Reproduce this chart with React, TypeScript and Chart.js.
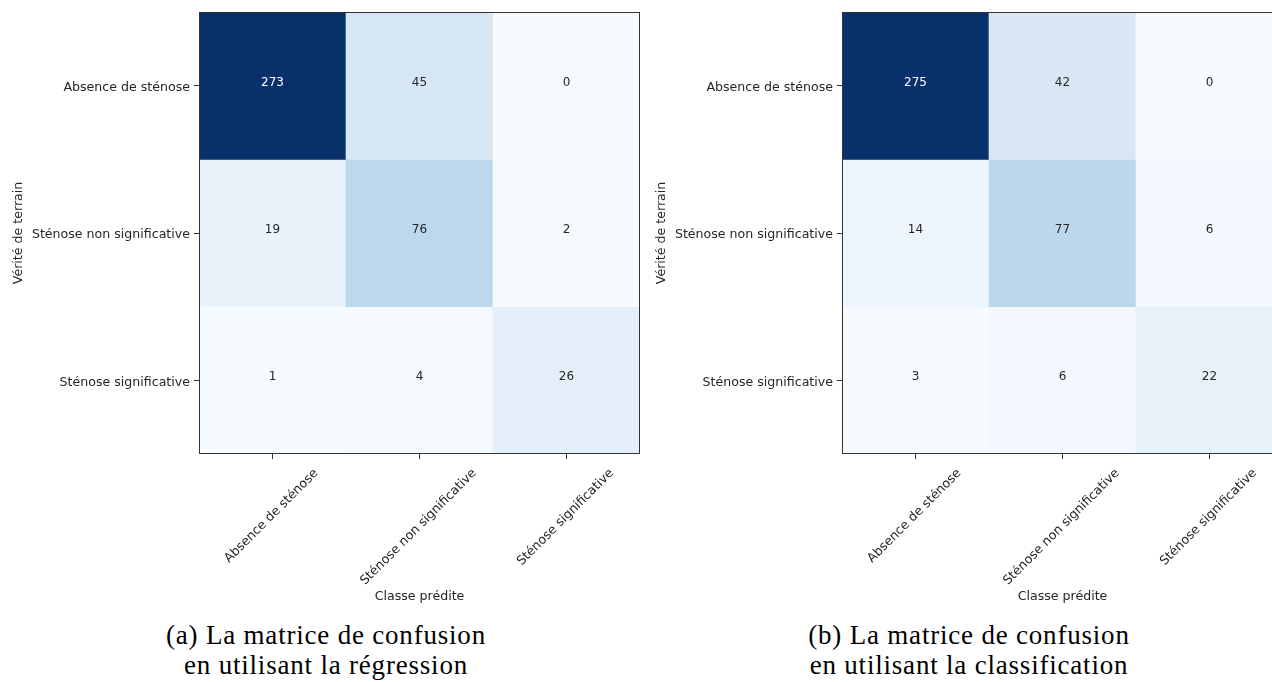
import React, { useEffect, useRef } from "react";
import { Chart, registerables } from "chart.js";

Chart.register(...registerables);

// ---- Data ----
const predictedLabels = ["Absence de sténose", "Sténose non significative", "Sténose significative"];
const trueLabels = ["Absence de sténose", "Sténose non significative", "Sténose significative"];

const regressionAbsence = [273, 45, 0];
const regressionNonSignificative = [19, 76, 2];
const regressionSignificative = [1, 4, 26];

const classificationAbsence = [275, 42, 0];
const classificationNonSignificative = [14, 77, 6];
const classificationSignificative = [3, 6, 22];

const xAxisTitle = "Classe prédite";
const yAxisTitle = "Vérité de terrain";

const captionRegression = ["(a) La matrice de confusion", "en utilisant la régression"];
const captionClassification = ["(b) La matrice de confusion", "en utilisant la classification"];

// ---- Style ----
const FONT = '"DejaVu Sans", sans-serif';
const LABEL_SIZE = 12.6;
const TEXT = "#262626";
const BLUES = ["#f7fbff", "#deebf7", "#c6dbef", "#9ecae1", "#6baed6", "#4292c6", "#2171b5", "#08519c", "#08306b"];

function hexToRgb(h: string) {
  const n = parseInt(h.slice(1), 16);
  return [(n >> 16) & 255, (n >> 8) & 255, n & 255];
}
function blues(t: number) {
  const p = Math.max(0, Math.min(1, t)) * (BLUES.length - 1);
  const i = Math.min(BLUES.length - 2, Math.floor(p));
  const f = p - i;
  const a = hexToRgb(BLUES[i]);
  const b = hexToRgb(BLUES[i + 1]);
  const c = a.map((v, k) => Math.round(v + (b[k] - v) * f));
  return `rgb(${c[0]},${c[1]},${c[2]})`;
}

const decorPlugin = {
  id: "matrixDecor",
  afterDatasetsDraw(chart: any) {
    const ctx = chart.ctx;
    const thresh = chart.options.plugins.matrixDecor.thresh;
    ctx.save();
    ctx.font = `12px ${FONT}`;
    ctx.textAlign = "center";
    ctx.textBaseline = "middle";
    chart.data.datasets.forEach((ds: any, r: number) => {
      const meta = chart.getDatasetMeta(r);
      meta.data.forEach((el: any, c: number) => {
        const v = ds.values[c];
        const { x, y, base } = el.getProps(["x", "y", "base"], true);
        ctx.fillStyle = v > thresh ? "#ffffff" : TEXT;
        ctx.fillText(String(v), x, (y + base) / 2 - 3);
      });
    });
    const a = chart.chartArea;
    ctx.strokeStyle = "#333333";
    ctx.lineWidth = 1;
    ctx.strokeRect(Math.round(a.left) + 0.5, Math.round(a.top) + 0.5, Math.round(a.width) - 1, Math.round(a.height) - 1);
    ctx.restore();
  },
  afterDraw(chart: any) {
    const ctx = chart.ctx;
    const xs = chart.scales.x;
    ctx.save();
    ctx.font = `${LABEL_SIZE}px ${FONT}`;
    ctx.fillStyle = TEXT;
    ctx.textAlign = "center";
    ctx.textBaseline = "middle";
    xs.ticks.forEach((t: any, i: number) => {
      const label = xs.getLabelForValue(t.value);
      const px = xs.getPixelForTick(i);
      const w = ctx.measureText(label).width;
      const box = (w + 12) * Math.SQRT1_2;
      const cy = chart.chartArea.bottom + 13 + box / 2;
      ctx.save();
      ctx.translate(px - 1, cy);
      ctx.rotate(-Math.PI / 4);
      ctx.fillText(label, 0, 0);
      ctx.restore();
    });
    ctx.restore();
  },
};

function Matrix({ rows, left }: { rows: number[][]; left: number }) {
  const ref = useRef<HTMLCanvasElement>(null);
  useEffect(() => {
    if (!ref.current) return;
    const flat = rows.flat();
    const max = Math.max(...flat);
    const min = Math.min(...flat);
    const chart = new Chart(ref.current, {
      type: "bar",
      data: {
        labels: predictedLabels,
        datasets: rows.map((row, r) => ({
          label: trueLabels[r],
          data: row.map(() => [r - 0.5, r + 0.5]),
          values: row,
          backgroundColor: row.map((v) => blues((v - min) / (max - min))),
          borderWidth: 0,
          grouped: false,
          barPercentage: 1,
          categoryPercentage: 1,
        })) as any,
      },
      options: {
        responsive: false,
        animation: false,
        devicePixelRatio: 1,
        layout: { padding: { top: 12, right: 20, left: 0, bottom: 0 } },
        plugins: {
          legend: { display: false },
          tooltip: { enabled: false },
          matrixDecor: { thresh: max / 2 },
        } as any,
        scales: {
          x: {
            type: "category",
            offset: true,
            grid: { display: true, drawOnChartArea: false, offset: false, tickLength: 5, color: "#333333" },
            border: { display: false },
            ticks: { display: false },
            title: {
              display: true,
              text: xAxisTitle,
              color: TEXT,
              font: { family: FONT, size: LABEL_SIZE },
              padding: { top: 0, bottom: 11 },
            },
            afterFit: (s: any) => {
              s.height = 161;
            },
          },
          y: {
            type: "linear",
            min: -0.5,
            max: 2.5,
            reverse: true,
            afterBuildTicks: (s: any) => {
              s.ticks = trueLabels.map((_, i) => ({ value: i }));
            },
            ticks: {
              autoSkip: false,
              padding: 4,
              labelOffset: 2,
              color: TEXT,
              font: { family: FONT, size: LABEL_SIZE },
              callback: (v: any) => trueLabels[v as number],
            },
            grid: { display: true, drawOnChartArea: false, tickLength: 5, color: "#333333" },
            border: { display: false },
            title: {
              display: true,
              text: yAxisTitle,
              color: TEXT,
              font: { family: FONT, size: LABEL_SIZE },
              padding: { top: 11, bottom: 0 },
            },
            afterFit: (s: any) => {
              s.width = 199;
            },
          },
        } as any,
      },
      plugins: [decorPlugin],
    });
    return () => chart.destroy();
  }, [rows]);
  return (
    <canvas
      ref={ref}
      width={660}
      height={615}
      style={{ position: "absolute", left, top: 0, width: 660, height: 615 }}
    />
  );
}

function Caption({ lines, center }: { lines: string[]; center: number }) {
  return (
    <div
      style={{
        position: "absolute",
        left: center - 250,
        top: 620,
        width: 500,
        textAlign: "center",
        fontFamily: '"Liberation Serif", serif',
        fontSize: 27,
        letterSpacing: "0.8px",
        lineHeight: "30px",
        color: "#000",
      }}
    >
      {lines.map((l, i) => (
        <div key={i}>{l}</div>
      ))}
    </div>
  );
}

const regressionRows = [regressionAbsence, regressionNonSignificative, regressionSignificative];
const classificationRows = [classificationAbsence, classificationNonSignificative, classificationSignificative];

export default function App() {
  return (
    <div
      style={{
        position: "absolute",
        left: 0,
        top: 0,
        width: 1272,
        height: 682,
        overflow: "hidden",
        background: "#ffffff",
      }}
    >
      <Matrix rows={regressionRows} left={0} />
      <Matrix rows={classificationRows} left={643} />
      <Caption lines={captionRegression} center={326} />
      <Caption lines={captionClassification} center={969} />
    </div>
  );
}
